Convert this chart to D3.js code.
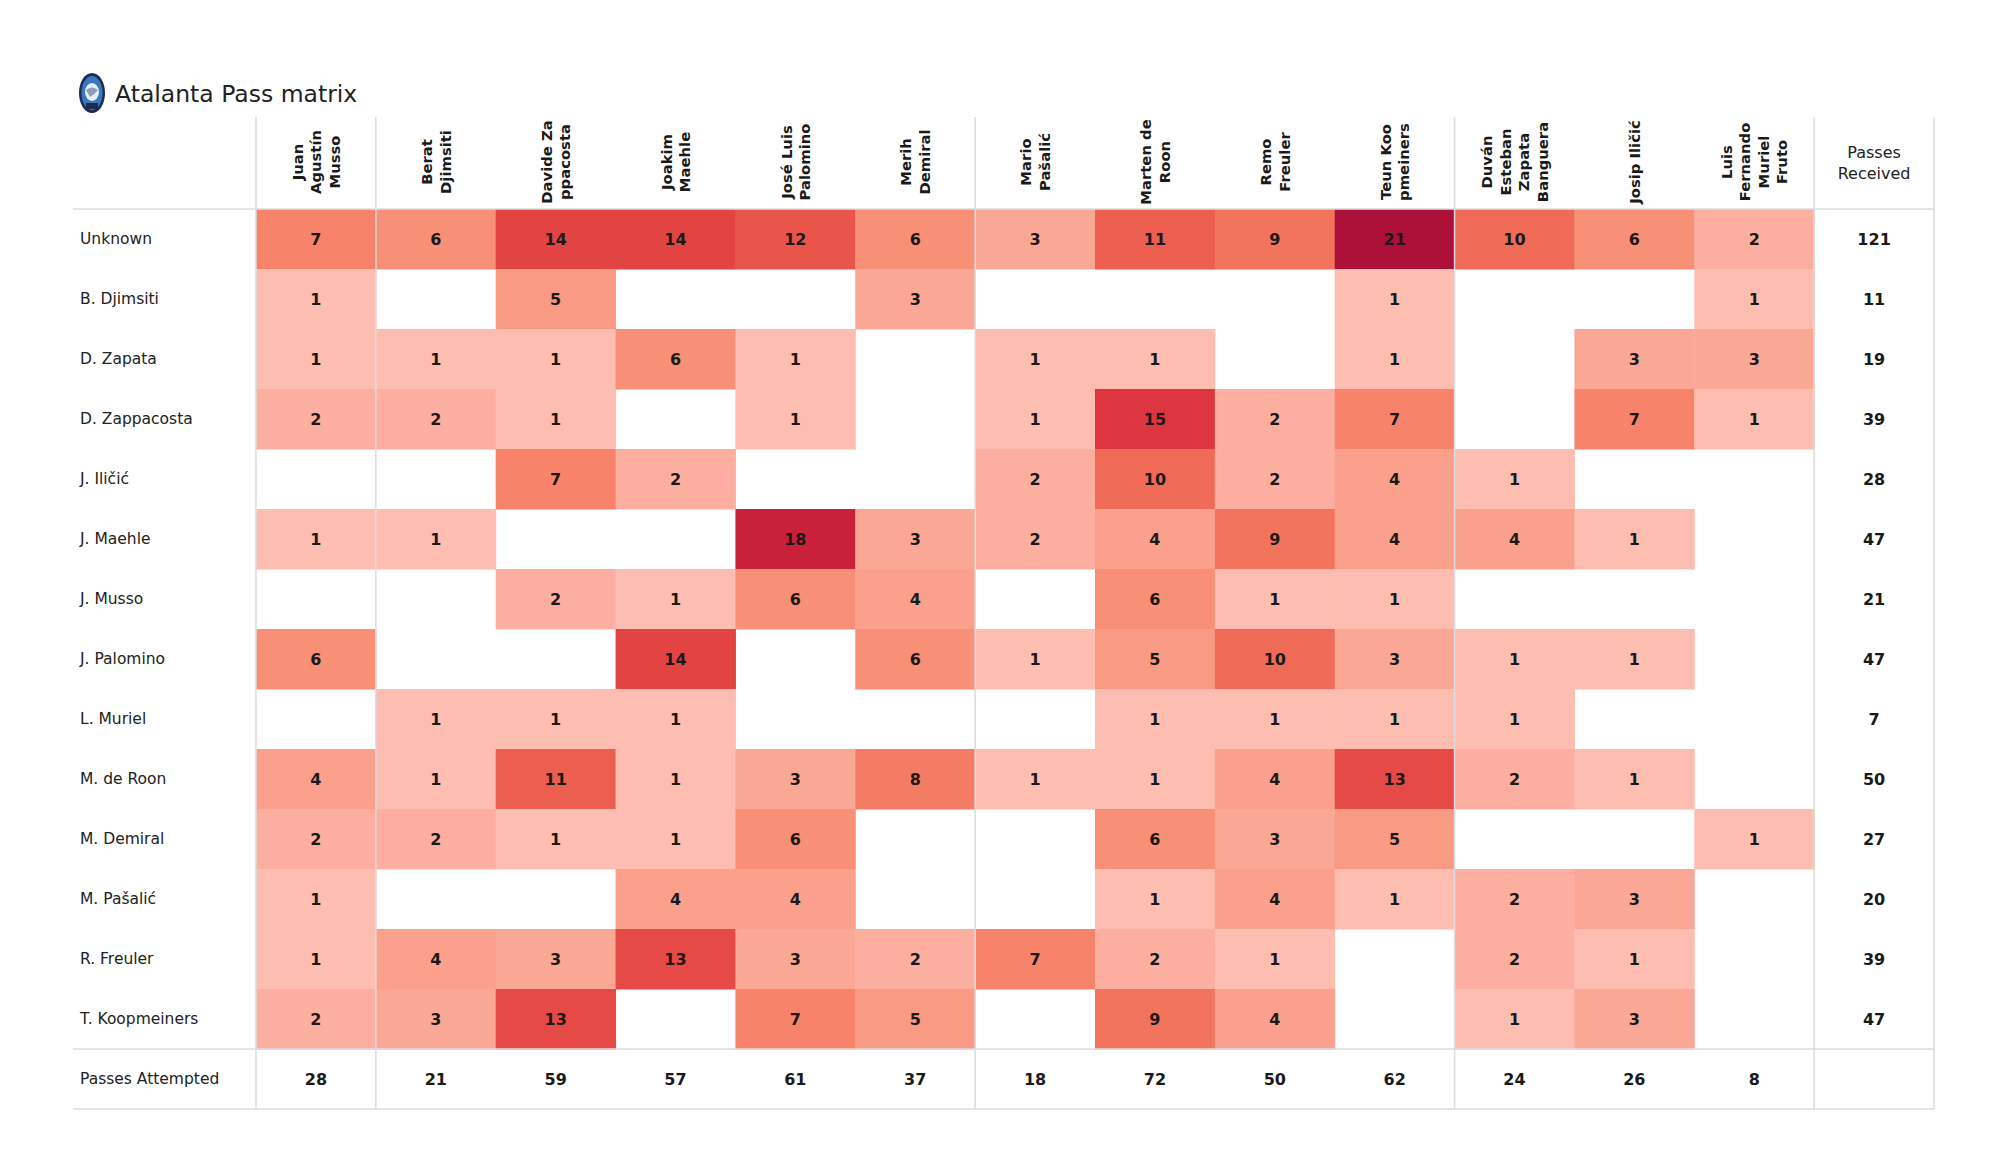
<!DOCTYPE html>
<html>
<head>
<meta charset="utf-8">
<script src="https://cdn.jsdelivr.net/npm/d3@7"></script>
<style>
  html, body { margin: 0; padding: 0; background: #fff; }
  svg { display: block; font-family: "DejaVu Sans", sans-serif; }
</style>
</head>
<body>
<svg id="chart" width="2000" height="1175"></svg>
<script>
// ---------- DATA ----------
const title = "Atalanta Pass matrix";
const passers = [
  "Juan Agustín Musso", "Berat Djimsiti", "Davide Zappacosta", "Joakim Maehle",
  "José Luis Palomino", "Merih Demiral", "Mario Pašalić", "Marten de Roon",
  "Remo Freuler", "Teun Koopmeiners", "Duván Esteban Zapata Banguera",
  "Josip Iličić", "Luis Fernando Muriel Fruto"
];
const passerLabelLines = [
  ["Juan", "Agustín", "Musso"], ["Berat", "Djimsiti"], ["Davide Za", "ppacosta"],
  ["Joakim", "Maehle"], ["José Luis", "Palomino"], ["Merih", "Demiral"],
  ["Mario", "Pašalić"], ["Marten de", "Roon"], ["Remo", "Freuler"],
  ["Teun Koo", "pmeiners"], ["Duván", "Esteban", "Zapata", "Banguera"],
  ["Josip Iličić"], ["Luis", "Fernando", "Muriel", "Fruto"]
];
const receivers = [
  "Unknown", "B. Djimsiti", "D. Zapata", "D. Zappacosta", "J. Iličić", "J. Maehle",
  "J. Musso", "J. Palomino", "L. Muriel", "M. de Roon", "M. Demiral", "M. Pašalić",
  "R. Freuler", "T. Koopmeiners"
];
// rows = receivers, columns = passers (null = no passes)
const passMatrix = [
  [7, 6, 14, 14, 12, 6, 3, 11, 9, 21, 10, 6, 2],
  [1, null, 5, null, null, 3, null, null, null, 1, null, null, 1],
  [1, 1, 1, 6, 1, null, 1, 1, null, 1, null, 3, 3],
  [2, 2, 1, null, 1, null, 1, 15, 2, 7, null, 7, 1],
  [null, null, 7, 2, null, null, 2, 10, 2, 4, 1, null, null],
  [1, 1, null, null, 18, 3, 2, 4, 9, 4, 4, 1, null],
  [null, null, 2, 1, 6, 4, null, 6, 1, 1, null, null, null],
  [6, null, null, 14, null, 6, 1, 5, 10, 3, 1, 1, null],
  [null, 1, 1, 1, null, null, null, 1, 1, 1, 1, null, null],
  [4, 1, 11, 1, 3, 8, 1, 1, 4, 13, 2, 1, null],
  [2, 2, 1, 1, 6, null, null, 6, 3, 5, null, null, 1],
  [1, null, null, 4, 4, null, null, 1, 4, 1, 2, 3, null],
  [1, 4, 3, 13, 3, 2, 7, 2, 1, null, 2, 1, null],
  [2, 3, 13, null, 7, 5, null, 9, 4, null, 1, 3, null]
];
const passesReceived = [121, 11, 19, 39, 28, 47, 21, 47, 7, 50, 27, 20, 39, 47];
const passesAttempted = [28, 21, 59, 57, 61, 37, 18, 72, 50, 62, 24, 26, 8];
const receivedLabel = ["Passes", "Received"];
const attemptedLabel = "Passes Attempted";
// position groups (index of first passer in each group after the first)
const groupStarts = [1, 6, 10];

// ---------- STYLE ----------
const colorStops = [1, 2, 3, 4, 5, 6, 7, 8, 9, 10, 11, 12, 13, 14, 15, 18, 21];
const colorRange = ["#fdbdb0", "#fcafa0", "#fba796", "#faa08d", "#f99a85", "#f88f77",
  "#f6836a", "#f47b64", "#f2745d", "#f06b57", "#ec5e50", "#e9554b", "#e64a46",
  "#e24343", "#dd3640", "#c9203b", "#ad1039"];
const gridColor = "#dcdcdc";
const textColor = "#1a1a1a";

const svg = d3.select("#chart");

const tableLeft = 73, tableRight = 1934;
const labelColRight = 256;
const headerTop = 117, headerBottom = 209;

const colKeys = passers.concat(["__received"]);
const x = d3.scaleBand().domain(colKeys).range([labelColRight, tableRight]).padding(0);
const rowKeys = receivers.concat(["__attempted"]);
const y = d3.scaleBand().domain(rowKeys).range([headerBottom, 1109]).padding(0);
const color = d3.scaleLinear().domain(colorStops).range(colorRange).clamp(true);

// ---------- CELLS ----------
const cells = [];
passMatrix.forEach((row, ri) => row.forEach((v, ci) => {
  if (v != null) cells.push({ r: receivers[ri], c: passers[ci], v });
}));

const gCells = svg.append("g");
gCells.selectAll("rect").data(cells).join("rect")
  .attr("x", d => x(d.c))
  .attr("y", d => y(d.r))
  .attr("width", x.bandwidth() + 0.5)
  .attr("height", y.bandwidth() + 0.5)
  .attr("fill", d => color(d.v));

// ---------- GRID LINES ----------
const gGrid = svg.append("g").attr("stroke", gridColor).attr("stroke-width", 1.5);
[headerBottom, y("__attempted"), y("__attempted") + y.bandwidth()].forEach(yy => {
  gGrid.append("line").attr("x1", tableLeft).attr("x2", tableRight).attr("y1", yy).attr("y2", yy);
});
const vLines = [labelColRight]
  .concat(groupStarts.map(i => x(passers[i])))
  .concat([x("__received"), tableRight]);
vLines.forEach(xx => {
  gGrid.append("line").attr("x1", xx).attr("x2", xx)
    .attr("y1", headerTop).attr("y2", y("__attempted") + y.bandwidth());
});

// ---------- CELL TEXT ----------
svg.append("g").selectAll("text").data(cells).join("text")
  .attr("x", d => x(d.c) + x.bandwidth() / 2)
  .attr("y", d => y(d.r) + y.bandwidth() / 2)
  .attr("text-anchor", "middle").attr("dominant-baseline", "central")
  .attr("font-size", 16).attr("font-weight", "bold").attr("fill", textColor)
  .text(d => d.v);

// Passes received column
svg.append("g").selectAll("text").data(passesReceived).join("text")
  .attr("x", x("__received") + x.bandwidth() / 2)
  .attr("y", (d, i) => y(receivers[i]) + y.bandwidth() / 2)
  .attr("text-anchor", "middle").attr("dominant-baseline", "central")
  .attr("font-size", 16).attr("font-weight", "bold").attr("fill", textColor)
  .text(d => d);

// Passes attempted row
svg.append("g").selectAll("text").data(passesAttempted).join("text")
  .attr("x", (d, i) => x(passers[i]) + x.bandwidth() / 2)
  .attr("y", y("__attempted") + y.bandwidth() / 2)
  .attr("text-anchor", "middle").attr("dominant-baseline", "central")
  .attr("font-size", 16).attr("font-weight", "bold").attr("fill", textColor)
  .text(d => d);

// ---------- ROW LABELS ----------
svg.append("g").selectAll("text").data(rowKeys).join("text")
  .attr("x", 80)
  .attr("y", d => y(d) + y.bandwidth() / 2)
  .attr("dominant-baseline", "central")
  .attr("font-size", 15.5).attr("fill", "#222")
  .text(d => d === "__attempted" ? attemptedLabel : d);

// ---------- COLUMN HEADERS ----------
const headerMid = (headerTop + headerBottom) / 2;
const lineH = 18.5;
const gHead = svg.append("g");
passers.forEach((p, i) => {
  const lines = passerLabelLines[i];
  const t = gHead.append("text")
    .attr("transform", `translate(${x(p) + x.bandwidth() / 2},${headerMid - 1}) rotate(-90)`)
    .attr("text-anchor", "middle")
    .attr("font-size", 14.8).attr("font-weight", "bold").attr("fill", textColor);
  lines.forEach((ln, k) => {
    t.append("tspan").attr("x", 0)
      .attr("y", (k - (lines.length - 1) / 2) * lineH)
      .attr("dominant-baseline", "central")
      .text(ln);
  });
});
const tRec = gHead.append("text")
  .attr("text-anchor", "middle").attr("font-size", 16).attr("fill", "#222");
receivedLabel.forEach((ln, k) => {
  tRec.append("tspan")
    .attr("x", x("__received") + x.bandwidth() / 2)
    .attr("y", headerMid + (k - 0.5) * 20.5)
    .attr("dominant-baseline", "central")
    .text(ln);
});

// ---------- TITLE + LOGO ----------
const logo = svg.append("g").attr("transform", "translate(92,93)");
logo.append("ellipse").attr("rx", 13).attr("ry", 20).attr("fill", "#1d2c4f");
logo.append("ellipse").attr("rx", 10.5).attr("ry", 17).attr("fill", "#3a78c2");
logo.append("ellipse").attr("cy", -1).attr("rx", 7).attr("ry", 9).attr("fill", "#e8eef5");
logo.append("path").attr("d", "M-6,-3 Q0,-8 6,-3 Q2,2 -2,4 Z").attr("fill", "#8aa0b8");
logo.append("rect").attr("x", -6).attr("y", 10).attr("width", 12).attr("height", 6).attr("fill", "#1d2c4f");

svg.append("text")
  .attr("x", 115).attr("y", 102)
  .attr("font-size", 23.5).attr("fill", "#222")
  .text(title);
</script>
</body>
</html>
